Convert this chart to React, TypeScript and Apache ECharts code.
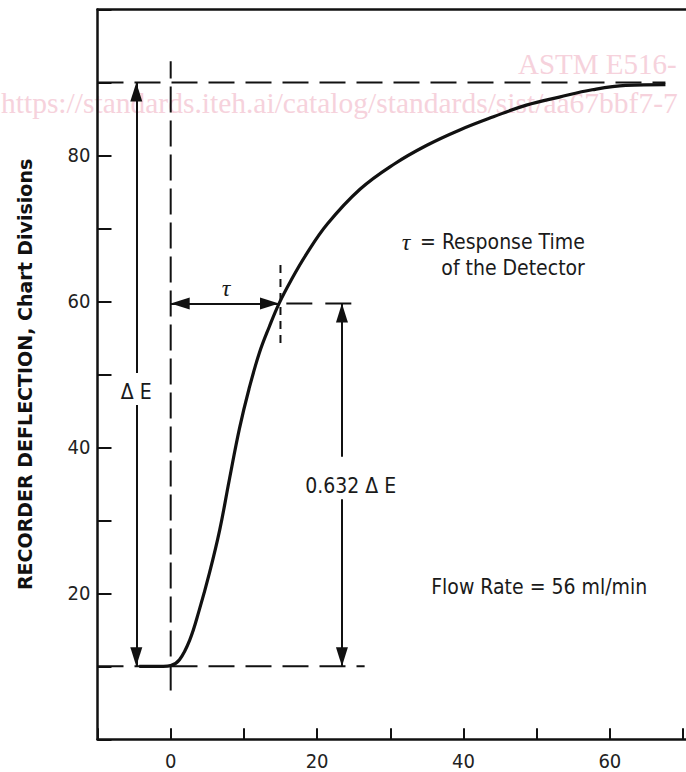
import React, { useEffect, useRef } from "react";
import * as echarts from "echarts";

// ---- data ----
const xTickLabels = [0, 20, 40, 60];
const yTickLabels = [20, 40, 60, 80];

const curveX = [-4.3, -1.0, 0.0, 1.2, 2.6, 3.9, 5.3, 6.7, 8.0, 9.4, 10.7, 12.1, 13.5, 14.8, 16.4, 18.5, 21.4, 25.9, 30.5, 35.0, 39.5, 44.1, 48.6, 53.1, 57.6, 62.2, 67.6];
const curveY = [10.0, 10.0, 10.1, 10.9, 13.6, 17.7, 22.8, 28.7, 35.5, 42.6, 48.0, 52.9, 56.6, 59.7, 62.8, 66.4, 70.6, 75.4, 78.8, 81.4, 83.5, 85.3, 86.9, 88.0, 89.0, 89.6, 89.7];

const baseLevel = 10;
const topLevel = 90;
const tauLevel = 59.7;
const tauX = 15;
const deltaEX = -4.7;
const pctX = 23.4;

const FONT = '"DejaVu Sans Condensed", "DejaVu Sans", sans-serif';
const INK = "#111111";
const ARROW = [12, 19];

export default function App() {
  const ref = useRef<HTMLDivElement>(null);

  useEffect(() => {
    if (!ref.current) return;
    const chart = echarts.init(ref.current, undefined, { renderer: "svg" });

    const dashed = (pts: number[][], dash: number[], width = 2) => ({
      type: "line",
      data: pts,
      symbol: "none",
      silent: true,
      z: 3,
      lineStyle: { color: INK, width, type: dash },
    });

    const head = { symbol: "triangle", symbolSize: ARROW, symbolOffset: [0, ARROW[1] / 2] };
    const noHead = { symbol: "none" };
    const arrowEnd = (from: number[], to: number[], both = false) => [
      { coord: from, ...(both ? head : noHead) },
      { coord: to, ...head },
    ];

    const option: any = {
      animation: false,
      grid: { left: 97.5, right: -3, top: 9.5, bottom: 32.7 },
      xAxis: [
        {
          type: "value",
          min: -10,
          max: 70.4,
          interval: 10,
          position: "bottom",
          axisLine: { show: true, onZero: false, lineStyle: { color: INK, width: 2.5 } },
          axisTick: { show: true, inside: true, length: 11, lineStyle: { color: INK, width: 2 } },
          axisLabel: {
            formatter: (v: number) => (xTickLabels.includes(v) ? String(v) : ""),
            fontSize: 20,
            color: "#222",
            fontFamily: FONT,
            margin: 12,
            showMaxLabel: false,
          },
          splitLine: { show: false },
        },
        {
          type: "value",
          min: -10,
          max: 70.4,
          position: "top",
          axisLine: { show: true, onZero: false, lineStyle: { color: INK, width: 2.5 } },
          axisTick: { show: false },
          axisLabel: { show: false },
          splitLine: { show: false },
        },
      ],
      yAxis: {
        type: "value",
        min: 0,
        max: 100,
        interval: 10,
        position: "left",
        axisLine: { show: true, onZero: false, lineStyle: { color: INK, width: 2.5 } },
        axisTick: { show: true, inside: true, length: 14, lineStyle: { color: INK, width: 2 } },
        axisLabel: {
          formatter: (v: number) => (yTickLabels.includes(v) ? String(v) : ""),
          fontSize: 20,
          color: "#222",
          fontFamily: FONT,
          margin: 7,
        },
        splitLine: { show: false },
        name: "RECORDER DEFLECTION, Chart Divisions",
        nameLocation: "middle",
        nameGap: 63,
        nameTextStyle: { fontFamily: '"DejaVu Sans", sans-serif', fontWeight: "bold", fontSize: 19, color: "#111" },
      },
      series: [
        dashed([[-10, topLevel], [67.6, topLevel]], [26, 11]),
        dashed([[-10, baseLevel], [26.5, baseLevel]], [26, 11]),
        dashed([[0, 6.7], [0, 92.9]], [26, 8]),
        dashed([[tauX, 54.3], [tauX, 65.7]], [8, 6]),
        dashed([[15.8, tauLevel], [25.3, tauLevel]], [26, 13]),
        {
          type: "line",
          data: curveX.map((x, i) => [x, curveY[i]]),
          symbol: "none",
          smooth: 0.4,
          silent: true,
          z: 5,
          lineStyle: { color: INK, width: 3.2 },
        },
        {
          type: "line",
          data: [],
          silent: true,
          z: 6,
          markLine: {
            silent: true,
            animation: false,
            label: { show: false },
            lineStyle: { color: INK, width: 2, type: "solid" },
            emphasis: { disabled: true },
            data: [
              arrowEnd([deltaEX, 50.2], [deltaEX, topLevel]),
              arrowEnd([deltaEX, 45.8], [deltaEX, baseLevel]),
              arrowEnd([0, tauLevel], [14.8, tauLevel], true),
              arrowEnd([pctX, 38.7], [pctX, tauLevel]),
              arrowEnd([pctX, 32.9], [pctX, baseLevel]),
            ],
          },
        },
      ],
    };

    chart.setOption(option);

    const px = (x: number, y: number) => chart.convertToPixel({ xAxisIndex: 0, yAxisIndex: 0 }, [x, y]) as number[];
    const txt = (x: number, y: number, text: string, extra: any = {}) => {
      const p = px(x, y);
      return {
        type: "text",
        x: p[0],
        y: p[1],
        z: 10,
        silent: true,
        style: {
          text,
          fill: "#1a1a1a",
          font: `21px ${FONT}`,
          align: "center",
          verticalAlign: "middle",
          ...extra,
        },
      };
    };

    const wm = "#f6d2dc";
    chart.setOption({
      graphic: [
        {
          type: "text",
          x: 518,
          y: 64,
          z: 0,
          silent: true,
          style: { text: "ASTM E516-", fill: wm, font: '29px "Liberation Serif", serif', align: "left", verticalAlign: "middle" },
        },
        {
          type: "text",
          x: 1,
          y: 103,
          z: 0,
          silent: true,
          style: {
            text: "https://standards.iteh.ai/catalog/standards/sist/aa67bbf7-7",
            fill: wm,
            font: '29.5px "Liberation Serif", serif',
            align: "left",
            verticalAlign: "middle",
          },
        },
        txt(deltaEX, 47.6, "Δ E"),
        txt(24.6, 34.7, "0.632 Δ E"),
        txt(7.56, 61.9, "τ", { font: 'italic 24px "Liberation Serif", serif' }),
        txt(32.15, 68.1, "τ", { font: 'italic 24px "Liberation Serif", serif' }),
        txt(34.08, 68.1, "= Response Time", { align: "left" }),
        txt(36.98, 64.6, "of the Detector", { align: "left" }),
        txt(35.6, 20.9, "Flow Rate = 56 ml/min", { align: "left" }),
      ],
    });

    return () => chart.dispose();
  }, []);

  return <div ref={ref} style={{ position: "absolute", left: 0, top: 0, width: 686, height: 772 }} />;
}
